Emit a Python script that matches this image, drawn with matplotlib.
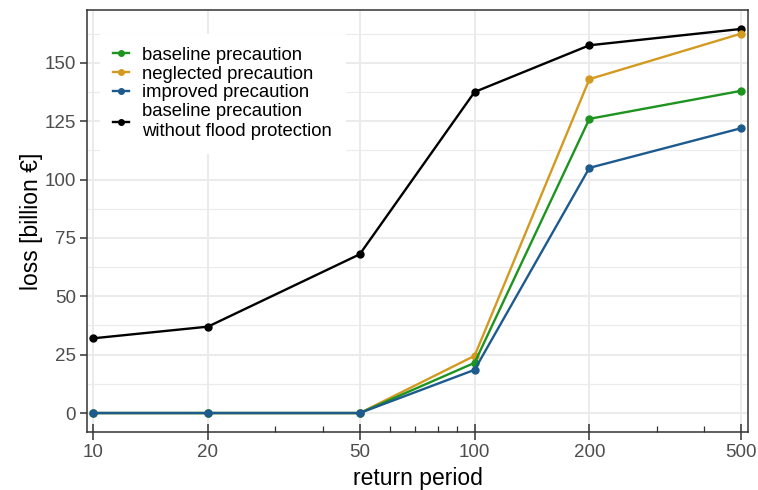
import numpy as np
import matplotlib.pyplot as plt
from matplotlib.ticker import FixedLocator, NullFormatter

plt.rcParams['font.family'] = ['Liberation Sans', 'DejaVu Sans']

# data
return_period = [10, 20, 50, 100, 200, 500]
baseline = [0, 0, 0, 21.5, 126, 138]
neglected = [0, 0, 0, 24.5, 143, 162.5]
improved = [0, 0, 0, 18.5, 105, 122]
no_protection = [32, 37, 68, 137.5, 157.5, 164.5]

labels = ['baseline precaution', 'neglected precaution', 'improved precaution',
          'baseline precaution\nwithout flood protection']
colors = ['#1E9420', '#D39A21', '#1D5A8E', '#000000']

fig = plt.figure(figsize=(7.58, 4.9), dpi=100)
ax = fig.add_axes([0.115, 0.118, 0.872, 0.862])

series = [baseline, neglected, improved, no_protection]
handles = [None] * 4
for i in [3, 1, 0, 2]:
    h, = ax.plot(return_period, series[i], color=colors[i], lw=1.7,
                 marker='o', ms=5, label=labels[i])
    handles[i] = h

ax.set_xscale('log')
ax.set_xlim(9.645, 521.5)
ax.set_ylim(-8.2, 172.7)

ax.xaxis.set_major_locator(FixedLocator(return_period))
ax.set_xticklabels([str(v) for v in return_period])
ax.xaxis.set_minor_locator(FixedLocator([30, 40, 60, 70, 80, 90, 300, 400]))
ax.xaxis.set_minor_formatter(NullFormatter())
ax.set_yticks([0, 25, 50, 75, 100, 125, 150])
ax.set_yticks([12.5, 37.5, 62.5, 87.5, 112.5, 137.5, 162.5], minor=True)

ax.tick_params(axis='both', which='major', labelsize=13.5, labelcolor='#4D4D4D',
               color='#333333', width=1.1)
ax.tick_params(axis='x', which='major', direction='inout', length=11, pad=3)
ax.tick_params(axis='y', which='major', direction='out', length=5, pad=3)
ax.tick_params(axis='x', which='minor', direction='in', length=4, color='#333333', width=0.9)
ax.tick_params(axis='y', which='minor', length=0)

ax.grid(axis='x', which='major', color='#EBEBEB', lw=1.5)
ax.grid(axis='y', which='major', color='#EBEBEB', lw=1.5)
ax.grid(axis='y', which='minor', color='#EBEBEB', lw=0.8)
ax.set_axisbelow(True)
for s in ax.spines.values():
    s.set_color('#333333')
    s.set_linewidth(1.1)

ax.set_xlabel('return period', fontsize=16.5, labelpad=4)
ax.set_ylabel('loss [billion €]', fontsize=16.5, labelpad=1)

leg = ax.legend(handles=handles, loc='upper left', bbox_to_anchor=(0.005, 0.965),
                fontsize=13.3, frameon=True, framealpha=1, edgecolor='white',
                fancybox=False, handlelength=0.9, handletextpad=0.7,
                labelspacing=0.1, borderpad=0.7)
for h in leg.legend_handles:
    h.set_markersize(4)

fig.savefig('out.png', dpi=100)
